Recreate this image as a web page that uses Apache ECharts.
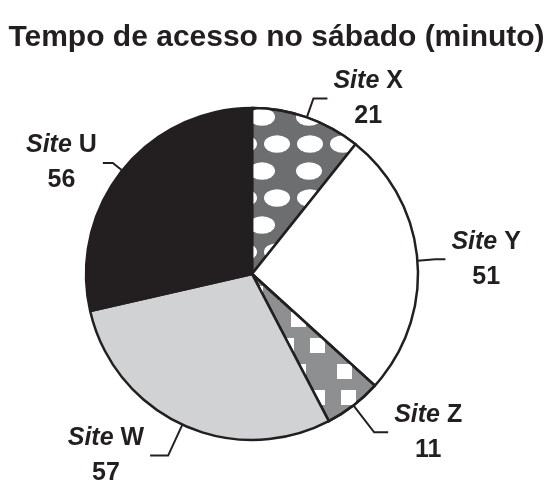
<!DOCTYPE html>
<html>
<head>
<meta charset="utf-8">
<script src="https://cdn.jsdelivr.net/npm/echarts@6/dist/echarts.min.js"></script>
<style>
html,body{margin:0;padding:0;background:#fff;}
#c{width:553px;height:500px;}
</style>
</head>
<body>
<div id="c"></div>
<script>
const titleText = 'Tempo de acesso no sábado (minuto)';
const categories = ['X', 'Y', 'Z', 'W', 'U'];
const values = [21, 51, 11, 57, 56];
const labelPrefix = 'Site';

const ink = '#231f20';
const sliceColors = ['#6d6e70', '#ffffff', '#8e8f91', '#d1d2d4', '#231f20'];
const ellipsePath = 'path://M0,8 A12,8 0 1,0 24,8 A12,8 0 1,0 0,8 Z';
const sliceDecals = [
  { symbol: ellipsePath, symbolSize: 1, symbolKeepAspect: true, color: '#ffffff',
    dashArrayX: [[26, 7], [0, 14, 26, 7, 0, 0]], dashArrayY: [18, 9], rotation: 0 },
  null,
  { symbol: 'rect', symbolSize: 1, symbolKeepAspect: false, color: '#ffffff',
    dashArrayX: [[15, 16], [0, 15, 15, 16, 0, 0]], dashArrayY: [15, 11], rotation: 0 },
  null,
  null
];
const leaderLengths = [[20, 14], [18, 10], [34, 14], [34, 18], [12, 10]];

const data = categories.map((c, i) => {
  const item = {
    name: c, value: values[i],
    itemStyle: { color: sliceColors[i] },
    labelLine: { length: leaderLengths[i][0], length2: leaderLengths[i][1] }
  };
  if (sliceDecals[i]) item.itemStyle.decal = sliceDecals[i];
  return item;
});

const chart = echarts.init(document.getElementById('c'), null, { renderer: 'canvas' });
chart.setOption({
  backgroundColor: '#ffffff',
  animation: false,
  title: {
    text: titleText,
    left: 'center',
    top: 18,
    textStyle: { fontFamily: 'Liberation Sans', fontSize: 30, fontWeight: 'bold', color: ink }
  },
  series: [{
    type: 'pie',
    center: [252, 274],
    radius: 166,
    startAngle: 90,
    clockwise: true,
    data: data,
    itemStyle: { borderColor: ink, borderWidth: 2.5 },
    label: {
      show: true,
      position: 'outside',
      formatter: p => '{it|' + labelPrefix + '} {bd|' + p.name + '}\n{bd|' + p.value + '}',
      color: ink,
      fontFamily: 'Liberation Sans',
      fontSize: 25,
      fontWeight: 'bold',
      lineHeight: 35,
      distanceToLabelLine: 6,
      rich: {
        it: { fontFamily: 'Liberation Sans', fontSize: 25, fontWeight: 'bold', fontStyle: 'italic', color: ink, align: 'center', lineHeight: 35 },
        bd: { fontFamily: 'Liberation Sans', fontSize: 25, fontWeight: 'bold', color: ink, align: 'center', lineHeight: 35 }
      }
    },
    labelLine: {
      show: true,
      smooth: false,
      lineStyle: { color: ink, width: 2 }
    },
    emphasis: { disabled: true }
  }]
});
</script>
</body>
</html>
